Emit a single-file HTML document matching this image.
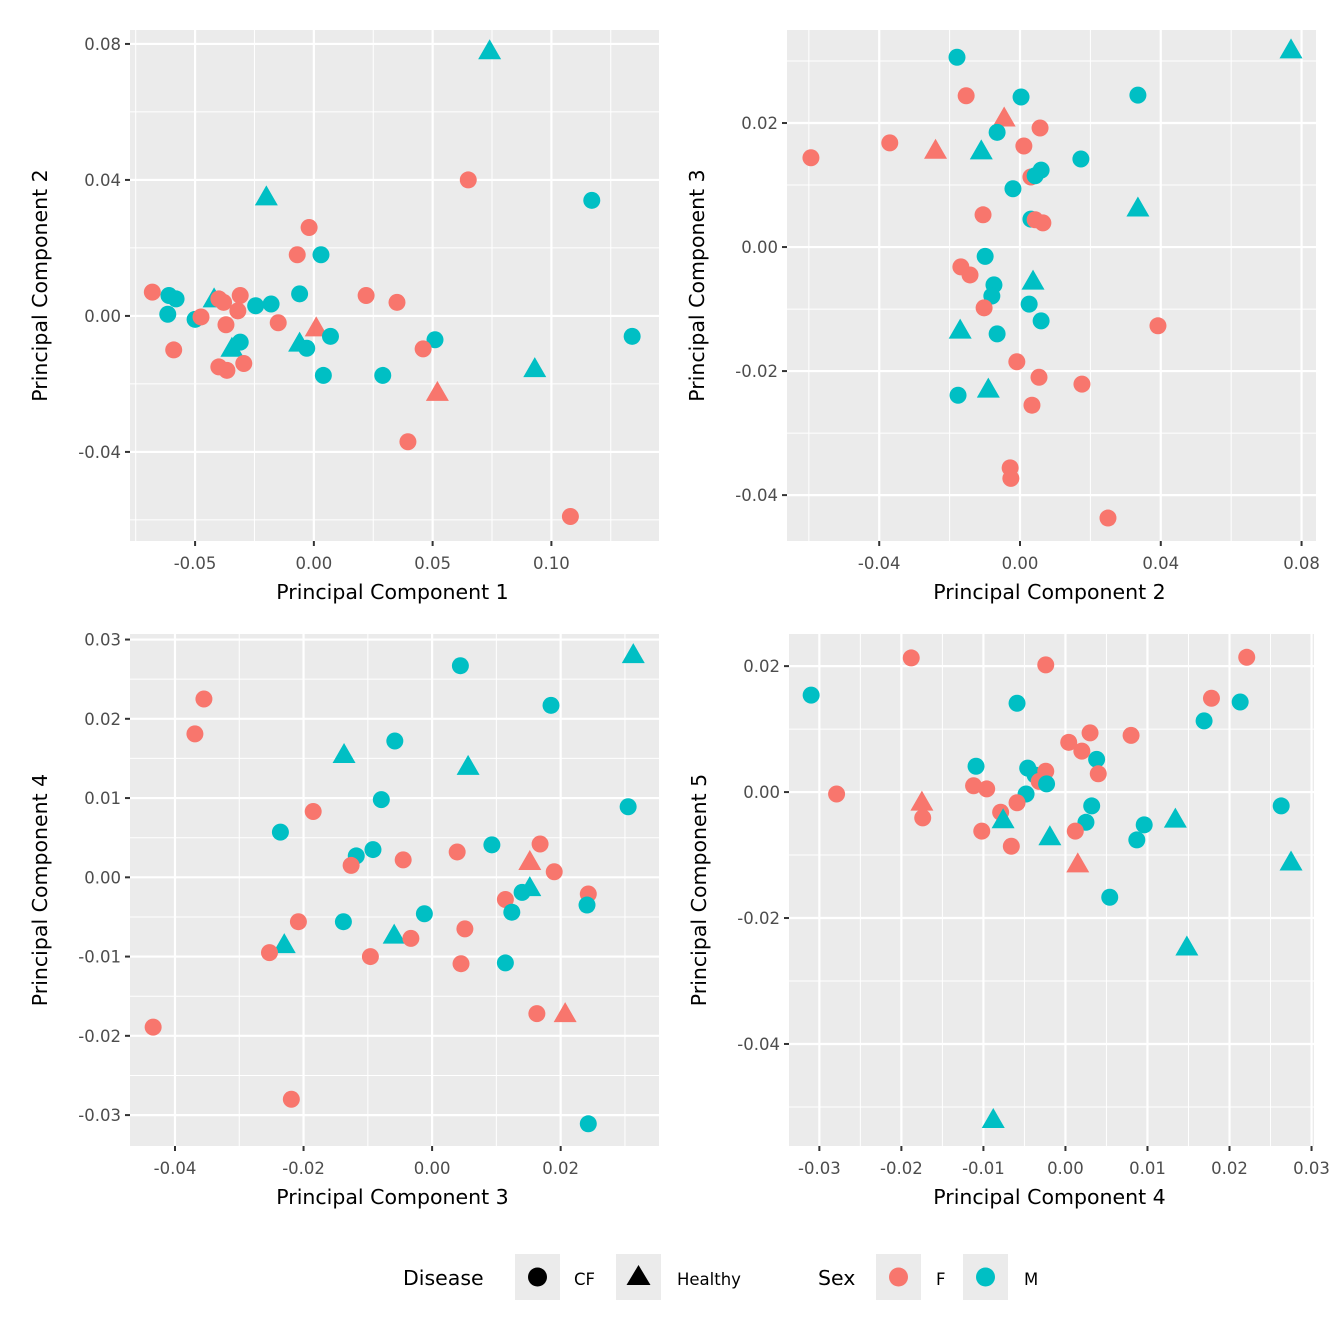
<!DOCTYPE html>
<html><head><meta charset="utf-8">
<style>
body{margin:0;background:#fff;}
svg{display:block;font-family:"DejaVu Sans","Liberation Sans",sans-serif;}
</style></head>
<body>
<svg id="chart" width="1344" height="1344" viewBox="0 0 1344 1344" xmlns="http://www.w3.org/2000/svg"></svg>
<script>
// Panel 1: PC1 vs PC2
const p1X=[0.074,-0.020,0.065,0.117,-0.002,-0.007,0.003,-0.068,-0.061,-0.058,-0.042,-0.040,-0.038,-0.031,-0.032,-0.0245,-0.018,-0.006,0.022,0.035,-0.0615,-0.050,-0.0475,-0.037,-0.015,0.001,0.007,-0.059,-0.0345,-0.031,-0.006,-0.003,-0.0295,-0.040,-0.0366,0.004,0.029,0.051,0.046,0.052,0.093,0.134,0.0396,0.108];
const p1Y=[0.078,0.035,0.040,0.034,0.026,0.018,0.018,0.007,0.006,0.005,0.005,0.005,0.004,0.006,0.0015,0.003,0.0035,0.0065,0.006,0.004,0.0005,-0.001,-0.0003,-0.0026,-0.002,-0.0035,-0.006,-0.010,-0.0095,-0.0077,-0.008,-0.0095,-0.014,-0.015,-0.016,-0.0175,-0.0175,-0.007,-0.0097,-0.0225,-0.0155,-0.006,-0.037,-0.059];
const p1Sex=['M','M','F','M','F','F','M','F','M','M','M','F','F','F','F','M','M','M','F','F','M','M','F','F','F','F','M','F','M','M','M','M','F','F','F','M','M','M','F','F','M','M','F','F'];
const p1Dis=['H','H','C','C','C','C','C','C','C','C','H','C','C','C','C','C','C','C','C','C','C','C','C','C','C','H','C','C','H','C','H','C','C','C','C','C','C','C','C','H','H','C','C','C'];
// Panel 2: PC2 vs PC3
const p2X=[0.077,-0.0179,-0.0153,0.0003,0.0335,-0.0045,0.0057,-0.0065,-0.037,-0.024,-0.011,0.0011,-0.0594,0.0173,0.006,0.0031,0.0043,-0.002,0.0335,-0.0105,0.0031,0.0043,0.0065,-0.0099,-0.0168,-0.0142,-0.0074,0.0037,-0.008,-0.0102,0.0026,0.006,-0.017,-0.0065,0.0392,-0.0009,0.0054,0.0176,-0.009,-0.0176,0.0034,-0.0028,-0.0026,0.025];
const p2Y=[0.0318,0.0306,0.0244,0.0242,0.0245,0.0208,0.0192,0.0185,0.0168,0.0156,0.0155,0.0163,0.0144,0.0142,0.0124,0.0113,0.0115,0.0094,0.0063,0.0052,0.0045,0.0044,0.0039,-0.0015,-0.0032,-0.0045,-0.0061,-0.0055,-0.0079,-0.0098,-0.0092,-0.0119,-0.0134,-0.014,-0.0127,-0.0185,-0.021,-0.0221,-0.0229,-0.0239,-0.0255,-0.0356,-0.0373,-0.0437];
const p2Sex=['M','M','F','M','M','F','F','M','F','F','M','F','F','M','M','F','M','M','M','F','M','F','F','M','F','F','M','M','M','F','M','M','M','M','F','F','F','F','M','M','F','F','F','F'];
const p2Dis=['H','C','C','C','C','H','C','C','C','H','H','C','C','C','C','C','C','C','H','C','C','C','C','C','C','C','C','H','C','C','C','C','H','C','C','C','C','C','H','C','C','C','C','C'];
// Panel 3: PC3 vs PC4
const p3X=[0.0313,0.0044,-0.0355,-0.0369,0.0185,-0.0058,-0.0137,0.0056,-0.0079,-0.0185,0.0305,-0.0236,0.0168,-0.0092,0.0039,0.0093,-0.0118,-0.0045,-0.0126,0.0152,0.019,0.0152,0.014,0.0243,0.0114,0.0241,0.0124,-0.0012,-0.0208,-0.0138,0.0051,-0.0059,-0.0033,-0.023,-0.0253,-0.0096,0.0045,0.0114,0.0163,0.0207,-0.0434,-0.0219,0.0243];
const p3Y=[0.0281,0.0267,0.0225,0.0181,0.0217,0.0172,0.0155,0.014,0.0098,0.0083,0.0089,0.0057,0.0042,0.0035,0.0032,0.0041,0.0027,0.0022,0.0015,0.002,0.0007,-0.0013,-0.0019,-0.0021,-0.0028,-0.0035,-0.0044,-0.0046,-0.0056,-0.0056,-0.0065,-0.0073,-0.0077,-0.0085,-0.0095,-0.01,-0.0109,-0.0108,-0.0172,-0.0172,-0.0189,-0.028,-0.0311];
const p3Sex=['M','M','F','F','M','M','M','M','M','F','M','M','F','M','F','M','M','F','F','F','F','M','M','F','F','M','M','M','F','M','F','M','F','M','F','F','F','M','F','F','F','F','M'];
const p3Dis=['H','C','C','C','C','C','H','H','C','C','C','C','C','C','C','C','C','C','C','H','C','H','C','C','C','C','C','C','C','C','C','H','C','H','C','C','C','C','C','H','C','C','C'];
// Panel 4: PC4 vs PC5
const p4X=[-0.031,-0.0188,-0.0024,0.0221,-0.0059,0.0178,0.0213,0.0169,0.003,0.008,0.0004,0.002,0.0038,-0.0109,-0.0046,0.004,-0.0037,-0.0024,-0.0279,-0.0112,-0.0096,-0.0032,-0.0023,-0.0048,-0.0079,-0.0059,-0.0175,-0.0174,0.0032,0.0263,-0.0102,-0.0076,0.0025,0.0012,0.0096,0.0134,-0.0066,-0.0019,0.0087,0.0015,0.0275,0.0054,0.0148,-0.0088];
const p4Y=[0.0154,0.0213,0.0202,0.0214,0.0141,0.0149,0.0143,0.0113,0.0094,0.009,0.0079,0.0065,0.0052,0.0041,0.0038,0.0029,0.0027,0.0033,-0.0003,0.001,0.0005,0.0017,0.0013,-0.0003,-0.0032,-0.0017,-0.0016,-0.0041,-0.0022,-0.0022,-0.0062,-0.0044,-0.0048,-0.0062,-0.0052,-0.0043,-0.0086,-0.0071,-0.0076,-0.0114,-0.0111,-0.0167,-0.0246,-0.052];
const p4Sex=['M','F','F','F','M','F','M','M','F','F','F','F','M','M','M','F','M','F','F','F','F','F','M','M','F','F','F','F','M','M','F','M','M','F','M','M','F','M','M','F','M','M','M','M'];
const p4Dis=['C','C','C','C','C','C','C','C','C','C','C','C','C','C','C','C','C','C','C','C','C','C','C','C','C','C','H','C','C','C','C','H','C','C','C','H','C','H','C','H','H','C','H','H'];
// Axis ticks
const p1XTicks=[-0.05,0,0.05,0.10], p1XLabels=['-0.05','0.00','0.05','0.10'];
const p1YTicks=[0.08,0.04,0,-0.04], p1YLabels=['0.08','0.04','0.00','-0.04'];
const p2XTicks=[-0.04,0,0.04,0.08], p2XLabels=['-0.04','0.00','0.04','0.08'];
const p2YTicks=[0.02,0,-0.02,-0.04], p2YLabels=['0.02','0.00','-0.02','-0.04'];
const p3XTicks=[-0.04,-0.02,0,0.02], p3XLabels=['-0.04','-0.02','0.00','0.02'];
const p3YTicks=[0.03,0.02,0.01,0,-0.01,-0.02,-0.03], p3YLabels=['0.03','0.02','0.01','0.00','-0.01','-0.02','-0.03'];
const p4XTicks=[-0.03,-0.02,-0.01,0,0.01,0.02,0.03], p4XLabels=['-0.03','-0.02','-0.01','0.00','0.01','0.02','0.03'];
const p4YTicks=[0.02,0,-0.02,-0.04], p4YLabels=['0.02','0.00','-0.02','-0.04'];

const NS='http://www.w3.org/2000/svg';
const svg=document.getElementById('chart');
function mk(tag,attrs,parent){const e=document.createElementNS(NS,tag);for(const k in attrs)e.setAttribute(k,attrs[k]);(parent||svg).appendChild(e);return e;}
const COL={F:'#F8766D',M:'#00BFC4'};

function panel(cfg){
  const g=mk('g',{});
  
  
  const sx=v=>cfg.L+(v-cfg.xmin)/(cfg.xmax-cfg.xmin)*(cfg.R-cfg.L);
  const sy=v=>cfg.B-(v-cfg.ymin)/(cfg.ymax-cfg.ymin)*(cfg.B-cfg.T);
  const bg=mk('rect',{x:cfg.L,y:cfg.T,width:cfg.R-cfg.L,height:cfg.B-cfg.T,fill:'#EBEBEB'},g);
  
  
  cfg.xMinor.forEach(v=>{mk('line',{x1:sx(v),x2:sx(v),y1:cfg.T,y2:cfg.B,stroke:'#fff','stroke-width':1},g);});
  cfg.yMinor.forEach(v=>{mk('line',{x1:cfg.L,x2:cfg.R,y1:sy(v),y2:sy(v),stroke:'#fff','stroke-width':1},g);});
  cfg.xt.forEach((v,i)=>{
    mk('line',{x1:sx(v),x2:sx(v),y1:cfg.T,y2:cfg.B,stroke:'#fff','stroke-width':2.2},g);
    mk('line',{x1:sx(v),x2:sx(v),y1:cfg.B,y2:cfg.B+5,stroke:'#333','stroke-width':2},g);
    const t=mk('text',{x:sx(v),y:cfg.B+28,'text-anchor':'middle','font-size':16.5,fill:'#4D4D4D'},g);
    t.textContent=cfg.xl[i];
    
    
  });
  cfg.yt.forEach((v,i)=>{
    mk('line',{x1:cfg.L,x2:cfg.R,y1:sy(v),y2:sy(v),stroke:'#fff','stroke-width':2.2},g);
    mk('line',{x1:cfg.L-5,x2:cfg.L,y1:sy(v),y2:sy(v),stroke:'#333','stroke-width':2},g);
    const t=mk('text',{x:cfg.L-9,y:sy(v)+6,'text-anchor':'end','font-size':16.5,fill:'#4D4D4D'},g);
    t.textContent=cfg.yl[i];
    
    
  });
  const xt=mk('text',{x:(cfg.L+cfg.R)/2-2,y:cfg.B+58,'text-anchor':'middle','font-size':20.5,fill:'#000'},g);
  xt.textContent=cfg.xTitle;
  
  
  const yx=cfg.L-83, yy=(cfg.T+cfg.B)/2;
  const yt=mk('text',{x:yx,y:yy,'text-anchor':'middle','font-size':20.5,fill:'#000',transform:'rotate(-90 '+yx+' '+yy+')'},g);
  yt.textContent=cfg.yTitle;
  
  
  for(let i=0;i<cfg.X.length;i++){
    const px=sx(cfg.X[i]), py=sy(cfg.Y[i]), c=COL[cfg.S[i]];
    let m;
    if(cfg.D[i]==='H'){
      m=mk('polygon',{points:`${px},${py-11.5} ${px-11.5},${py+8.5} ${px+11.5},${py+8.5}`,fill:c},g);
    } else {
      m=mk('circle',{cx:px,cy:py,r:8.5,fill:c},g);
    }
    
    
  }
}

panel({name:'panel-pc1-pc2',L:130,R:659,T:30,B:541,xmin:-0.0774,xmax:0.1453,ymin:-0.0662,ymax:0.0841,
 X:p1X,Y:p1Y,S:p1Sex,D:p1Dis,xt:p1XTicks,xl:p1XLabels,yt:p1YTicks,yl:p1YLabels,
 xMinor:[-0.075,-0.025,0.025,0.075,0.125],yMinor:[0.06,0.02,-0.02,-0.06],xTitle:'Principal Component 1',yTitle:'Principal Component 2'});
panel({name:'panel-pc2-pc3',L:787,R:1316,T:30,B:541,xmin:-0.0662,xmax:0.0841,ymin:-0.0474,ymax:0.035,
 X:p2X,Y:p2Y,S:p2Sex,D:p2Dis,xt:p2XTicks,xl:p2XLabels,yt:p2YTicks,yl:p2YLabels,
 xMinor:[-0.06,-0.02,0.02,0.06],yMinor:[0.03,0.01,-0.01,-0.03],xTitle:'Principal Component 2',yTitle:'Principal Component 3'});
panel({name:'panel-pc3-pc4',L:130,R:659,T:634,B:1146,xmin:-0.047,xmax:0.0353,ymin:-0.0339,ymax:0.0307,
 X:p3X,Y:p3Y,S:p3Sex,D:p3Dis,xt:p3XTicks,xl:p3XLabels,yt:p3YTicks,yl:p3YLabels,
 xMinor:[-0.03,-0.01,0.01,0.03],yMinor:[0.025,0.015,0.005,-0.005,-0.015,-0.025],xTitle:'Principal Component 3',yTitle:'Principal Component 4'});
panel({name:'panel-pc4-pc5',L:789,R:1314,T:634,B:1146,xmin:-0.0337,xmax:0.0303,ymin:-0.0562,ymax:0.0251,
 X:p4X,Y:p4Y,S:p4Sex,D:p4Dis,xt:p4XTicks,xl:p4XLabels,yt:p4YTicks,yl:p4YLabels,
 xMinor:[-0.025,-0.015,-0.005,0.005,0.015,0.025],yMinor:[0.01,-0.01,-0.03,-0.05],xTitle:'Principal Component 4',yTitle:'Principal Component 5'});

// Legend
const lg=mk('g',{});


function ltext(x,txt,size,name){const t=mk('text',{x:x,y:1285,'font-size':size,fill:'#000'},lg);t.textContent=txt;}
function lkey(x,shape,color,name){
  const r=mk('rect',{x:x,y:1254,width:45,height:46,fill:'#EBEBEB'},lg);
  
  
  const cx=x+22.5,cy=1277;
  if(shape==='tri') mk('polygon',{points:`${cx},${cy-12} ${cx-12},${cy+8} ${cx+12},${cy+8}`,fill:color},lg);
  else mk('circle',{cx:cx,cy:cy,r:9.5,fill:color},lg);
}
ltext(403,'Disease',20.5,'legend-title-disease');
lkey(515,'circle','#000','legend-key-cf');
ltext(574,'CF',16.5,'legend-label-cf');
lkey(616,'tri','#000','legend-key-healthy');
ltext(677,'Healthy',16.5,'legend-label-healthy');
ltext(818,'Sex',20.5,'legend-title-sex');
lkey(876,'circle','#F8766D','legend-key-f');
ltext(936,'F',16.5,'legend-label-f');
lkey(963,'circle','#00BFC4','legend-key-m');
ltext(1024,'M',16.5,'legend-label-m');
</script>
</body></html>
